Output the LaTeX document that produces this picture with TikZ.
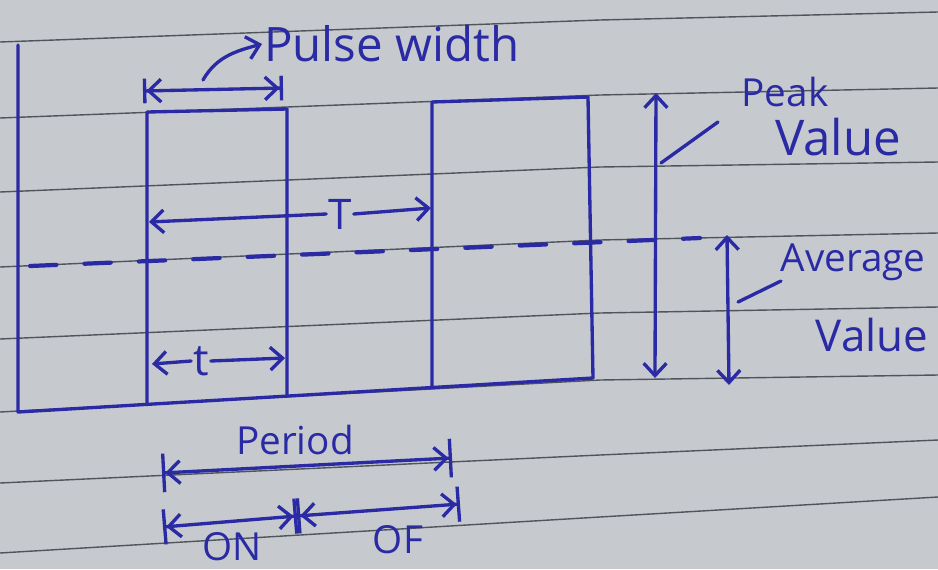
\documentclass[tikz,border=0pt]{standalone}
\usepackage{fontspec}
\setmainfont{Open Sans}
\usetikzlibrary{arrows.meta}
\definecolor{ink}{RGB}{42,42,165}
\definecolor{paper}{RGB}{198,202,207}
\definecolor{rulecol}{RGB}{80,84,92}
\begin{document}
\begin{tikzpicture}[x=0.02cm,y=-0.02cm,
  inkline/.style={draw=ink,line width=1.9pt,line cap=round,line join=round},
  tip/.style={inkline,arrows={-Straight Barb[length=7pt,width=13pt]}},
  dbl/.style={inkline,arrows={Straight Barb[length=7pt,width=13pt]-Straight Barb[length=7pt,width=13pt]}},
  barred/.style={inkline,arrows={Bar[width=#1]Straight Barb[length=7pt,width=13pt]-Straight Barb[length=7pt,width=13pt]Bar[width=#1]}},
  barred/.default=14pt,
  lbl/.style={text=ink,inner sep=1pt},
  ruled/.style={draw=rulecol,line width=0.8pt}]
% paper
\fill[paper] (0,0) rectangle (938,569);
\useasboundingbox (0,0) rectangle (938,569);
\draw[ruled] (0,42) -- (600,20) -- (938,12);
\draw[ruled] (0,118) -- (600,95) -- (938,88);
\draw[ruled] (0,192) -- (600,167) -- (938,162);
\draw[ruled] (0,267) -- (600,240) -- (938,233);
\draw[ruled] (0,339) -- (600,313) -- (938,307);
\draw[ruled] (0,412) -- (600,380) -- (938,375);
\draw[ruled] (0,483) -- (600,455) -- (938,440);
\draw[ruled] (0,553) -- (600,517) -- (938,497);
% waveform
\coordinate (w0) at (18,45);
\coordinate (w1) at (18,412);
\coordinate (a1) at (147,404);
\coordinate (a2) at (147,112);
\coordinate (a3) at (287,109);
\coordinate (a4) at (287,396);
\coordinate (b1) at (432,388);
\coordinate (b2) at (432,102);
\coordinate (b3) at (588,97);
\coordinate (b4) at (593,378);
\draw[inkline] (w0) -- (w1) -- (b4);
\draw[inkline] (a1) -- (a2) -- (a3) -- (a4);
\draw[inkline] (b1) -- (b2) -- (b3) -- (b4);
% average dashed line
\coordinate (d0) at (30,266);
\coordinate (d1) at (700,238);
\draw[inkline,line width=2.4pt,dash pattern=on 15pt off 16pt] (d0) -- (d1);
% pulse width
\coordinate (pw1) at (143,91);
\coordinate (pw2) at (283,88);
\draw[barred] (pw1) -- (pw2);
\node[lbl,font=\fontsize{27}{30}\selectfont,anchor=west] (PW) at (262,44) {Pulse width};
\coordinate (pwc) at (203,80);
\draw[tip] (pwc) to[out=60,in=195] (PW.west);
% T
\node[lbl,font=\fontsize{24}{28}\selectfont] (T) at (340,214) {T};
\coordinate (Tl) at (149,222);
\coordinate (Tr) at (431,208);
\draw[tip] (T.west) -- (Tl);
\draw[tip] (T.east) -- (Tr);
% t
\node[lbl,font=\fontsize{25}{28}\selectfont] (tt) at (201,361) {t};
\coordinate (tl) at (152,364);
\coordinate (tr) at (285,358);
\draw[tip] (tt.west) -- (tl);
\draw[tip] (tt.east) -- (tr);
% peak value
\coordinate (pk1) at (656,93);
\coordinate (pk2) at (655,378);
\draw[dbl] (pk1) -- (pk2);
\node[lbl,font=\fontsize{22}{26}\selectfont] (peak) at (785,92) {Peak};
\node[lbl,font=\fontsize{28}{31}\selectfont] (pval) at (838,137) {Value};
\coordinate (pkl1) at (661,163);
\coordinate (pkl2) at (718,122);
\draw[inkline] (pkl1) -- (pkl2);
% average value
\coordinate (av1) at (727,235);
\coordinate (av2) at (729,385);
\draw[dbl] (av1) -- (av2);
\node[lbl,font=\fontsize{22}{26}\selectfont] (avg) at (853,262) {Average};
\node[lbl,font=\fontsize{25}{28}\selectfont] (aval) at (872,335) {Value};
\coordinate (avl1) at (738,302);
\coordinate (avl2) at (781,281);
\draw[inkline] (avl1) -- (avl2);
% period
\coordinate (pd1) at (162,473);
\coordinate (pd2) at (452,458);
\draw[barred=22pt] (pd1) -- (pd2);
\node[lbl,font=\fontsize{22}{25}\selectfont] (period) at (295,440) {Period};
% on / off
\coordinate (o1) at (163,527);
\coordinate (o2) at (297,516);
\coordinate (o3) at (460,504);
\draw[barred=20pt] (o1) -- (o2);
\draw[barred=20pt] (o2) -- (o3);
\node[lbl,font=\fontsize{22}{26}\selectfont] (on) at (232,547) {ON};
\node[lbl,font=\fontsize{22}{26}\selectfont] (of) at (398,540) {OF};
\end{tikzpicture}
\end{document}
